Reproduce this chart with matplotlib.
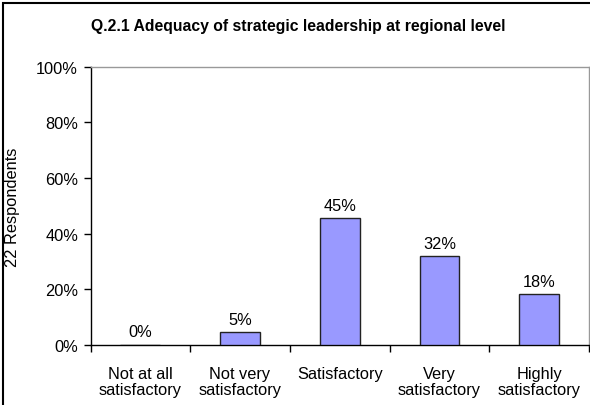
import numpy as np
import matplotlib
matplotlib.use("Agg")
import matplotlib.pyplot as plt
from matplotlib.patches import Rectangle

plt.rcParams['font.family'] = ['Liberation Sans', 'DejaVu Sans']

categories = ["Not at all\nsatisfactory", "Not very\nsatisfactory", "Satisfactory",
              "Very\nsatisfactory", "Highly\nsatisfactory"]
values = [0.0, 4.5, 45.5, 31.8, 18.2]
value_labels = ["0%", "5%", "45%", "32%", "18%"]
yticks = [0, 20, 40, 60, 80, 100]

fs = 11.8
fig = plt.figure(figsize=(5.9, 4.06), dpi=100)
ax = fig.add_axes([90.5/590, 1-346/406, (589-90.5)/590, (346-67.5)/406])

x = np.arange(len(categories))
ax.bar(x, values, width=0.4, color='#9999ff', edgecolor='#222222', linewidth=1.0, zorder=3)
for xi, v, lab in zip(x, values, value_labels):
    ax.text(xi, v + 2.0, lab, ha='center', va='bottom', fontsize=fs)

ax.set_xlim(-0.5, len(categories) - 0.5)
ax.set_ylim(0, 100)
ax.set_yticks(yticks)
ax.set_yticklabels([f"{t}%" for t in yticks], fontsize=fs)
ax.set_xticks(np.arange(len(categories) + 1) - 0.5)
ax.set_xticklabels([])
ax.set_xticks(x, minor=True)
ax.set_xticklabels(categories, minor=True, fontsize=fs, linespacing=1.12)
ax.tick_params(axis='x', which='minor', length=0, pad=15)
ax.tick_params(axis='x', which='major', length=5, direction='out', width=1)
ax.tick_params(axis='y', length=5, direction='out', width=1, pad=4)

for s in ['top', 'right']:
    ax.spines[s].set_color('#999999')
    ax.spines[s].set_linewidth(1)
for s in ['left', 'bottom']:
    ax.spines[s].set_color('black')
    ax.spines[s].set_linewidth(1)

fig.text(13/590, 1-207/406, "22 Respondents", rotation=90, ha='center', va='center', fontsize=fs)

fig.text(298/590, 1-27/406, "Q.2.1 Adequacy of strategic leadership at regional level",
         ha='center', va='center', fontsize=11.3, fontweight='bold')

fig.patches.append(Rectangle((3/590, -0.05), 1.0, 1-4/406+0.05, transform=fig.transFigure,
                             fill=False, edgecolor='black', linewidth=1.5))

fig.savefig("out.png", dpi=100)
